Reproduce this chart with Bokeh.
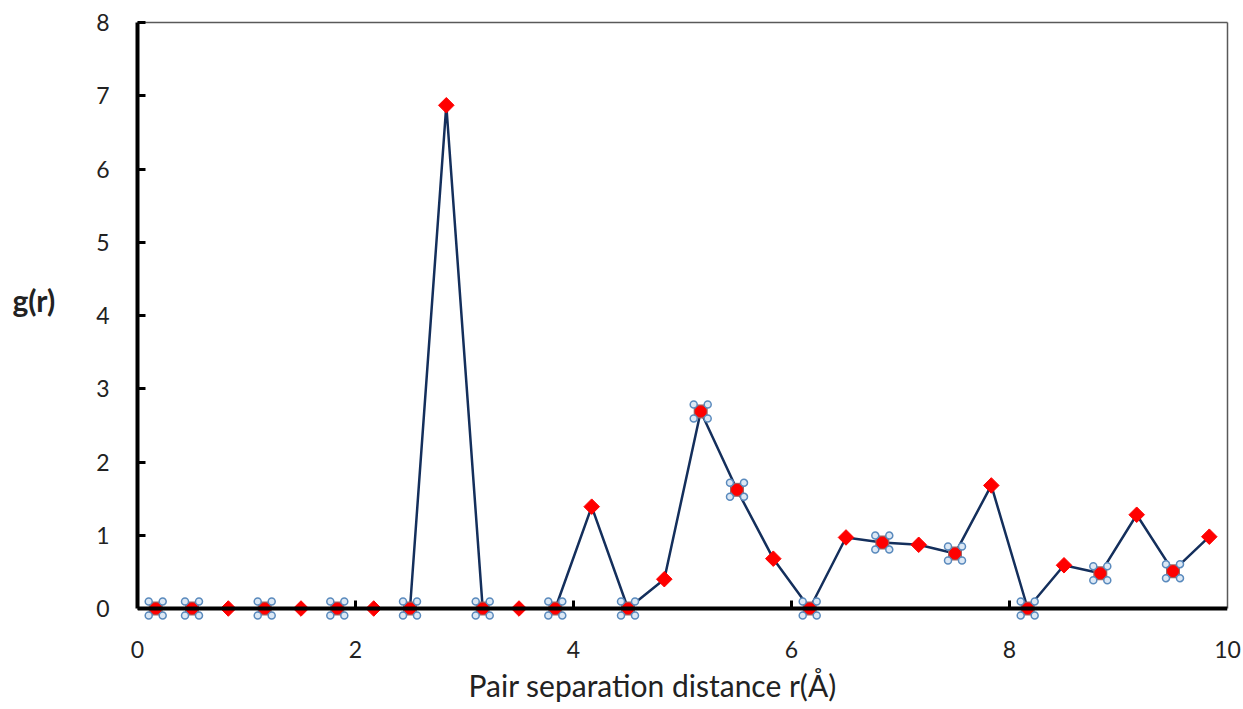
import numpy as np
from bokeh.plotting import figure
from bokeh.models import Range1d, FixedTicker, LinearAxis, Title, Span
from bokeh.embed import file_html
from bokeh.resources import INLINE

# ---- data ----
r_values = [0.167, 0.5, 0.833, 1.167, 1.5, 1.833, 2.167, 2.5, 2.833, 3.167,
            3.5, 3.833, 4.167, 4.5, 4.833, 5.167, 5.5, 5.833, 6.167, 6.5,
            6.833, 7.167, 7.5, 7.833, 8.167, 8.5, 8.833, 9.167, 9.5, 9.833]
g_values = [0, 0, 0, 0, 0, 0, 0, 0, 6.87, 0,
            0, 0, 1.39, 0, 0.40, 2.69, 1.62, 0.68, 0, 0.97,
            0.90, 0.87, 0.75, 1.68, 0, 0.59, 0.48, 1.28, 0.51, 0.98]
handle_flags = [1, 1, 0, 1, 0, 1, 0, 1, 0, 1,
                0, 1, 0, 1, 0, 1, 1, 0, 1, 0,
                1, 0, 1, 0, 1, 0, 1, 0, 1, 0]
x_ticks = [0, 2, 4, 6, 8, 10]
y_ticks = [0, 1, 2, 3, 4, 5, 6, 7, 8]
x_title = "Pair separation distance r(Å)"
y_title = "g(r)"

FONT = "Lato"
px_per_x = 1090 / 10.0
px_per_y = 586 / 8.0
extra_bottom = 12  # pixels of frame below y=0 so markers on the axis are not clipped
y_start = -extra_bottom / px_per_y

p = figure(width=1243, height=709, output_backend="svg", toolbar_location=None,
           x_range=Range1d(0, 10), y_range=Range1d(y_start, 8),
           min_border_left=137, min_border_right=16, min_border_top=22,
           min_border_bottom=709 - 608 - extra_bottom)
p.xgrid.visible = False
p.ygrid.visible = False
p.outline_line_color = None
p.background_fill_color = "white"
p.border_fill_color = "white"

# x axis: labels only (sits at frame bottom)
xa = p.xaxis[0]
xa.ticker = FixedTicker(ticks=x_ticks)
xa.axis_line_color = None
xa.major_tick_line_color = None
xa.minor_tick_line_color = None
xa.major_label_text_font = FONT
xa.major_label_text_font_size = "23px"
xa.major_label_text_color = "#222222"
xa.major_label_standoff = 14

# x axis line at y = 0 with inside ticks
p.add_layout(Span(location=0, dimension="width", line_color="black", line_width=4))
tick_len = 8 / px_per_y
p.segment(x0=x_ticks[1:-1], y0=[0] * (len(x_ticks) - 2),
          x1=x_ticks[1:-1], y1=[tick_len] * (len(x_ticks) - 2),
          line_color="black", line_width=3)

ya = p.yaxis[0]
ya.ticker = FixedTicker(ticks=y_ticks)
ya.bounds = (0, 8)
ya.minor_tick_line_color = None
ya.major_tick_in = 8
ya.major_tick_out = 0
ya.major_tick_line_width = 3
ya.major_tick_line_color = "black"
ya.axis_line_width = 4
ya.axis_line_color = "black"
ya.major_label_text_font = FONT
ya.major_label_text_font_size = "23px"
ya.major_label_text_color = "#222222"
ya.major_label_standoff = 28

# y title (horizontal)
ya.axis_label = y_title + "\n"
ya.axis_label_orientation = "horizontal"
ya.axis_label_text_font = FONT
ya.axis_label_text_font_size = "30px"
ya.axis_label_text_font_style = "bold"
ya.axis_label_text_color = "#222222"
ya.axis_label_standoff = 38

# thin top / right border
for side in ("above", "right"):
    b = LinearAxis(axis_line_color="#595959", axis_line_width=1.5,
                   major_tick_line_color=None, minor_tick_line_color=None,
                   ticker=FixedTicker(ticks=[]))
    if side == "right":
        b.bounds = (0, 8)
    p.add_layout(b, side)

# x title
p.add_layout(Title(text=x_title, align="left", offset=331, standoff=9,
                   text_font=FONT, text_font_size="30px", text_font_style="normal",
                   text_color="#222222"), "below")

# line
p.line(r_values, g_values, line_color="#142f5c", line_width=2.5)

r_arr = np.array(r_values, dtype=float)
g_arr = np.array(g_values, dtype=float)
h = np.array(handle_flags, dtype=bool)

# plain points: red diamonds
p.scatter(r_arr[~h], g_arr[~h], marker="square", angle=np.pi / 4, size=11,
          fill_color="red", line_color="red")

# highlighted points: square + corner handles + red circle
off = 7
p.scatter(r_arr[h], g_arr[h], marker="square", size=14,
          fill_color="#9a6464", line_color=None)
for sx in (-1, 1):
    for sy in (-1, 1):
        p.scatter(r_arr[h] + sx * off / px_per_x, g_arr[h] + sy * off / px_per_y,
                  marker="circle", size=7, fill_color="#dce8f5",
                  line_color="#5a8abd", line_width=1.5)
p.scatter(r_arr[h], g_arr[h], marker="circle", size=11,
          fill_color="red", line_color="red")

open("out.html", "w").write(file_html(p, INLINE))
